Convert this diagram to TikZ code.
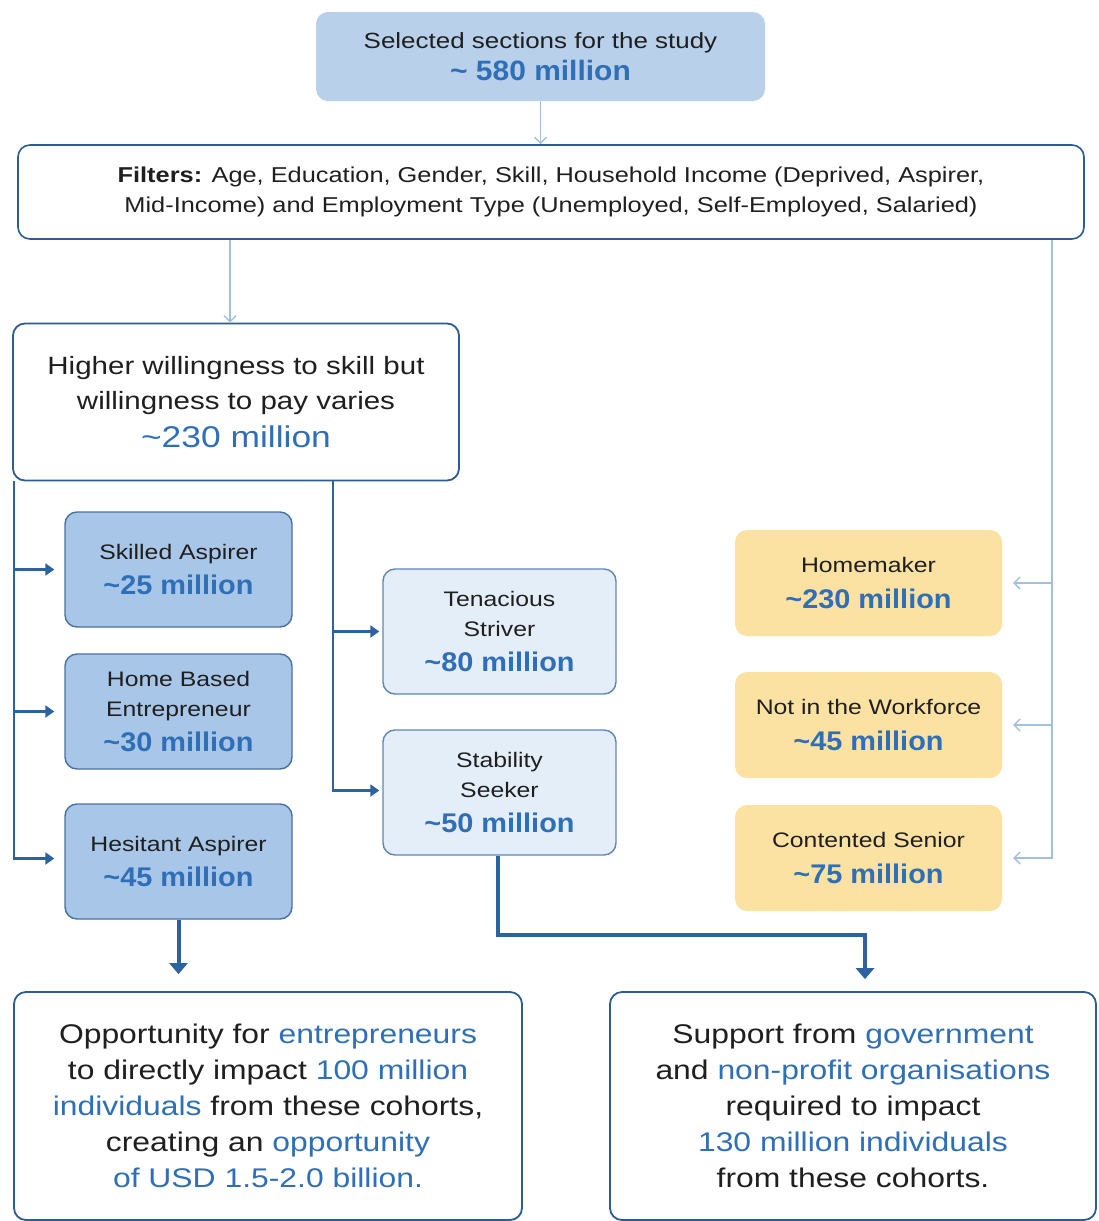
\documentclass[tikz,border=0pt]{standalone}
\usepackage{fontspec}
\setmainfont{Liberation Sans}[FakeStretch=1.18]
\newfontfamily\milfont{Liberation Sans}[FakeStretch=1.07]
\usetikzlibrary{arrows.meta}
\definecolor{topfill}{HTML}{B9D0EA}
\definecolor{lightline}{HTML}{A3BFE0}
\definecolor{darkline}{HTML}{2C62A2}
\definecolor{tblue}{HTML}{2F6FB7}
\definecolor{medfill}{HTML}{A8C6E8}
\definecolor{medborder}{HTML}{49709F}
\definecolor{palefill}{HTML}{E4EEF9}
\definecolor{paleborder}{HTML}{5F86B5}
\definecolor{yelfill}{HTML}{FBE2A2}
\definecolor{boxborder}{HTML}{2D5B93}
\definecolor{dtext}{HTML}{1F1F1F}
\newcommand{\mil}[2]{{\milfont\fontsize{#1}{#1}\selectfont\bfseries\color{tblue}#2}}
\begin{document}
\begin{tikzpicture}[x=1pt,y=-1pt,
  base/.style={rounded corners=12pt, align=center, text=dtext, inner sep=0pt},
  topbox/.style={base, fill=topfill, minimum width=449pt, minimum height=89pt},
  filtbox/.style={base, fill=white, draw=boxborder, line width=1.6pt, minimum width=1066pt, minimum height=94pt, font=\fontsize{21.5}{30}\selectfont},
  willbox/.style={base, fill=white, draw=boxborder, line width=1.8pt, minimum width=446pt, minimum height=157pt, font=\fontsize{25}{35}\selectfont},
  medbox/.style={base, fill=medfill, draw=medborder, line width=1.4pt, minimum width=227pt, minimum height=115pt, font=\fontsize{21}{30}\selectfont},
  palebox/.style={base, fill=palefill, draw=paleborder, line width=1.4pt, minimum width=233pt, minimum height=125pt, font=\fontsize{21}{30}\selectfont},
  yelbox/.style={base, fill=yelfill, minimum width=267pt, minimum height=106pt, font=\fontsize{21}{30}\selectfont},
  outbox/.style={base, fill=white, draw=boxborder, line width=1.8pt, font=\fontsize{27}{36}\selectfont},
  lightarrow/.style={draw=lightline, line width=1.4pt, -{Straight Barb[length=6pt,width=12pt]}},
  darkarrow/.style={draw=darkline, line width=2.4pt, -{Triangle[length=9pt,width=12pt]}},
  thickarrow/.style={draw=darkline, line width=4pt, -{Triangle[length=11pt,width=18pt]}}
]
\useasboundingbox (0,0) rectangle (1098,1221);

\node[topbox] (top) at (540.5,56.5) {\fontsize{22}{26}\selectfont Selected sections for the study\\[6pt] \mil{28}{\textasciitilde\ 580 million}};
\node[filtbox] (filters) at (551,192) {\textbf{Filters:} Age, Education, Gender, Skill, Household Income (Deprived, Aspirer,\\ Mid-Income) and Employment Type (Unemployed, Self-Employed, Salaried)};
\node[willbox] (will) at (236,402) {Higher willingness to skill but\\ willingness to pay varies\\[3pt] {\fontsize{30}{30}\selectfont\color{tblue}\textasciitilde230 million}};

\node[medbox] (skilled) at (178.5,569.5) {Skilled Aspirer\\[5pt] \mil{27}{\textasciitilde25 million}};
\node[medbox] (home) at (178.5,711.5) {Home Based\\ Entrepreneur\\[5pt] \mil{27}{\textasciitilde30 million}};
\node[medbox] (hes) at (178.5,861.5) {Hesitant Aspirer\\[5pt] \mil{27}{\textasciitilde45 million}};

\node[palebox] (ten) at (499.5,631.5) {Tenacious\\ Striver\\[5pt] \mil{27}{\textasciitilde80 million}};
\node[palebox] (stab) at (499.5,792.5) {Stability\\ Seeker\\[5pt] \mil{27}{\textasciitilde50 million}};

\node[yelbox] (hm) at (868.5,583) {Homemaker\\[6pt] \mil{27}{\textasciitilde230 million}};
\node[yelbox] (nw) at (868.5,725) {Not in the Workforce\\[6pt] \mil{27}{\textasciitilde45 million}};
\node[yelbox] (cs) at (868.5,858) {Contented Senior\\[6pt] \mil{27}{\textasciitilde75 million}};

\node[outbox, minimum width=508pt, minimum height=228pt] (bl) at (268,1106) {Opportunity for \textcolor{tblue}{entrepreneurs}\\ to directly impact \textcolor{tblue}{100 million}\\ \textcolor{tblue}{individuals} from these cohorts,\\ creating an \textcolor{tblue}{opportunity}\\ \textcolor{tblue}{of USD 1.5-2.0 billion.}};
\node[outbox, minimum width=486pt, minimum height=228pt] (br) at (853,1106) {Support from \textcolor{tblue}{government}\\ and \textcolor{tblue}{non-profit organisations}\\ required to impact\\ \textcolor{tblue}{130 million individuals}\\ from these cohorts.};

% top connectors
\draw[lightarrow] (top.south) -- (top.south |- filters.north);
\draw[lightarrow] ([xshift=-6pt]will.north |- filters.south) -- ([xshift=-6pt]will.north);
\coordinate (r0) at ([xshift=501pt]filters.south);
\draw[lightarrow] (r0) |- ([xshift=11pt]cs.east);
\draw[lightarrow] (r0 |- hm.east) -- ([xshift=11pt]hm.east);
\draw[lightarrow] (r0 |- nw.east) -- ([xshift=11pt]nw.east);

% left trunk
\coordinate (l0) at ([xshift=2pt]will.south west);
\draw[darkarrow] (l0) |- ([xshift=-10pt,yshift=3pt]hes.west);
\draw[darkarrow] (l0 |- skilled.west) -- ([xshift=-10pt]skilled.west);
\draw[darkarrow] (l0 |- home.west) -- ([xshift=-10pt]home.west);

% middle trunk
\coordinate (m0) at ([xshift=97pt]will.south);
\draw[darkarrow] (m0) |- ([xshift=-3pt,yshift=2pt]stab.west);
\draw[darkarrow] (m0 |- ten.west) -- ([xshift=-3pt]ten.west);

% bottom arrows
\draw[thickarrow] (hes.south) -- ([yshift=17pt]bl.north -| hes.south);
\coordinate (s1) at (498,935);
\draw[thickarrow] ([xshift=-1.5pt]stab.south) -- (s1) -| ([xshift=12pt,yshift=12pt]br.north);
\end{tikzpicture}
\end{document}
